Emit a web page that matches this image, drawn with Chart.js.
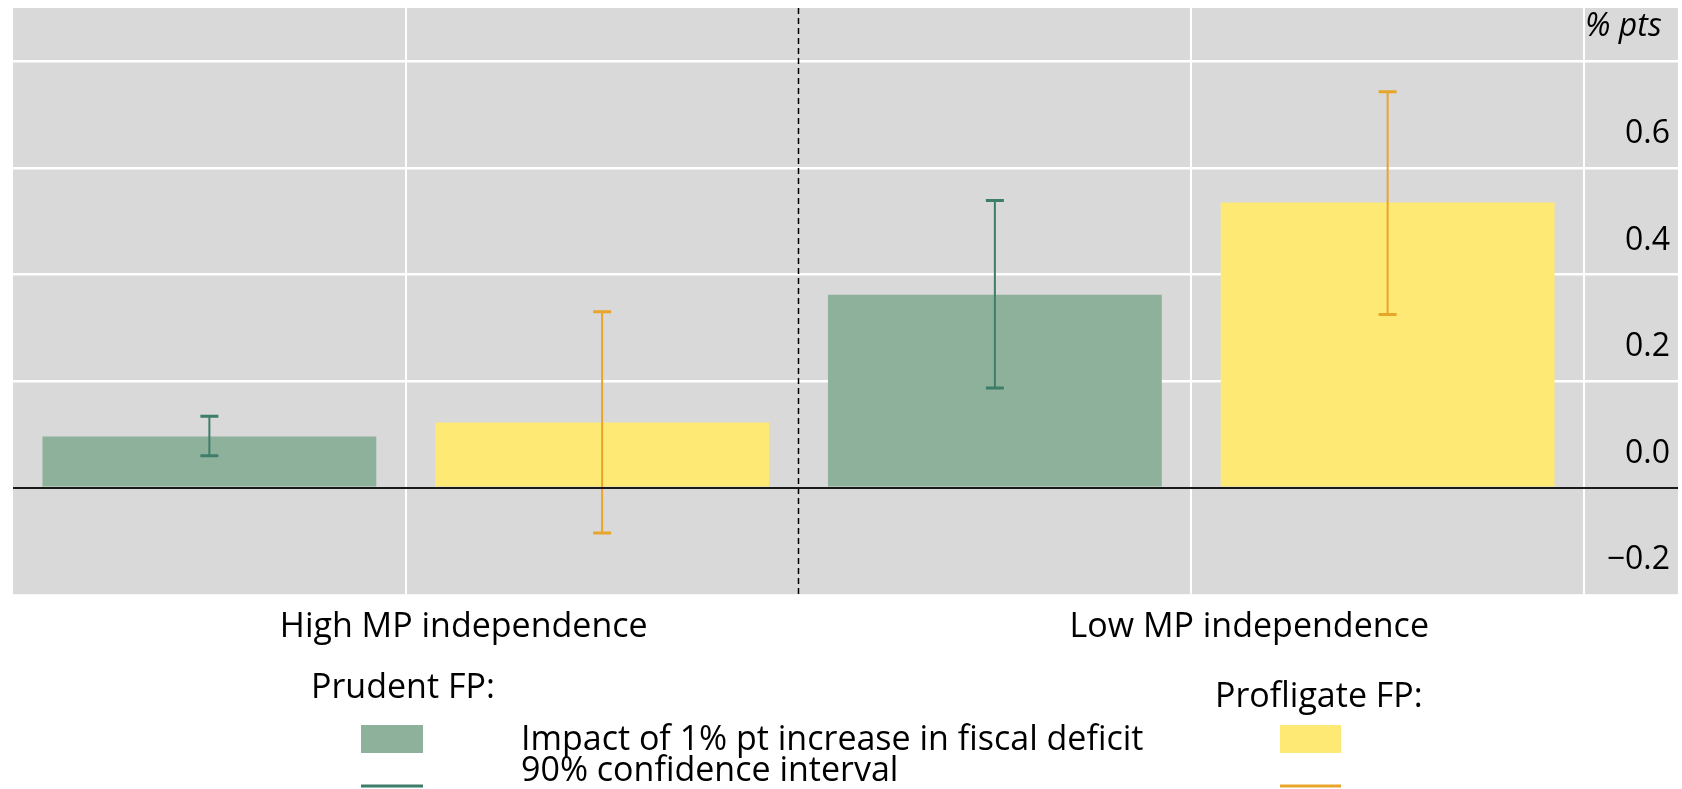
<!DOCTYPE html>
<html lang="en">
<head>
<meta charset="UTF-8">
<title>Impact of fiscal deficit by MP independence</title>
<script src="https://cdn.jsdelivr.net/npm/chart.js"></script>
<style>
  html, body { margin: 0; padding: 0; background: #fff; }
  #wrap { width: 1682px; height: 789px; }
</style>
</head>
<body>
<div id="wrap"><canvas id="chart"></canvas></div>
<script>
// values
const groups = ["High MP independence", "Low MP independence"];
const prudent = [0.096, 0.362];
const prudentLow = [0.060, 0.187];
const prudentHigh = [0.134, 0.539];
const profligate = [0.122, 0.535];
const profligateLow = [-0.085, 0.325];
const profligateHigh = [0.330, 0.743];
const yTicks = [-0.2, 0, 0.2, 0.4, 0.6, 0.8];
const unitLabel = "% pts";
const seriesNames = ["Prudent FP:", "Profligate FP:"];
const legendTexts = ["Impact of 1% pt increase in fiscal deficit", "90% confidence interval"];

const GREEN = "#8db19b", GREEN_DARK = "#3e7d6a";
const YELLOW = "#fee975", ORANGE = "#e9a42a";
const FONT = '"Open Sans", sans-serif';

Chart.defaults.font.family = FONT;
Chart.defaults.color = "#000";

// grey panel behind plot and the right-hand axis
const panel = {
    id: "panel",
    beforeDraw(chart) {
        const { ctx, chartArea, scales } = chart;
        ctx.save();
        ctx.fillStyle = "#d9d9d9";
        ctx.fillRect(chartArea.left, chartArea.top, scales.y.right - chartArea.left, chartArea.bottom - chartArea.top);
        ctx.restore();
    },
    beforeDatasetsDraw(chart) {
        // dashed divider between the two groups
        const { ctx, chartArea, scales } = chart;
        const x = (scales.x.getPixelForValue(0) + scales.x.getPixelForValue(1)) / 2;
        ctx.save();
        ctx.strokeStyle = "#000";
        ctx.lineWidth = 1.5;
        ctx.setLineDash([6, 4]);
        ctx.beginPath();
        ctx.moveTo(x, chartArea.top);
        ctx.lineTo(x, chartArea.bottom);
        ctx.stroke();
        ctx.restore();
    },
    afterDraw(chart) {
        // zero line runs on across the axis strip
        const { ctx, chartArea, scales } = chart;
        const y0 = Math.round(scales.y.getPixelForValue(0));
        ctx.save();
        ctx.strokeStyle = "#1a1a1a";
        ctx.lineWidth = 2;
        ctx.beginPath();
        ctx.moveTo(chartArea.left, y0);
        ctx.lineTo(chart.width - 4, y0);
        ctx.stroke();
        ctx.restore();
    }
};

const errorBars = {
    id: "errorBars",
    afterDatasetsDraw(chart) {
        const { ctx, scales: { y } } = chart;
        const sets = [[prudentLow, prudentHigh, GREEN_DARK], [profligateLow, profligateHigh, ORANGE]];
        sets.forEach(([lo, hi, color], di) => {
            chart.getDatasetMeta(di).data.forEach((bar, i) => {
                const yLo = y.getPixelForValue(lo[i]);
                const yHi = y.getPixelForValue(hi[i]);
                ctx.save();
                ctx.strokeStyle = color;
                ctx.lineWidth = 2;
                ctx.beginPath();
                ctx.moveTo(bar.x, yLo);
                ctx.lineTo(bar.x, yHi);
                ctx.stroke();
                ctx.lineWidth = 3;
                ctx.beginPath();
                ctx.moveTo(bar.x - 9, yLo); ctx.lineTo(bar.x + 9, yLo);
                ctx.moveTo(bar.x - 9, yHi); ctx.lineTo(bar.x + 9, yHi);
                ctx.stroke();
                ctx.restore();
            });
        });
    }
};

// legend below the chart
const legendBox = {
    id: "legendBox",
    afterDraw(chart) {
        const ctx = chart.ctx;
        ctx.save();
        ctx.font = "34px " + FONT;
        ctx.fillStyle = "#000";
        ctx.textBaseline = "alphabetic";
        ctx.fillText(seriesNames[0], 311, 698);
        ctx.fillText(seriesNames[1], 1215, 707);
        ctx.fillText(legendTexts[0], 521, 750);
        ctx.fillText(legendTexts[1], 521, 781);

        ctx.fillStyle = GREEN;
        ctx.fillRect(361, 725, 62, 28);
        ctx.fillStyle = YELLOW;
        ctx.fillRect(1280, 725, 61, 28);

        ctx.lineWidth = 3;
        ctx.strokeStyle = GREEN_DARK;
        ctx.beginPath(); ctx.moveTo(361, 786); ctx.lineTo(423, 786); ctx.stroke();
        ctx.strokeStyle = ORANGE;
        ctx.beginPath(); ctx.moveTo(1280, 786); ctx.lineTo(1341, 786); ctx.stroke();
        ctx.restore();
    }
};

const yGridColor = c => c.tick && c.tick.value === 0 ? "#1a1a1a" : (c.tick && c.tick.value === -0.2 ? "rgba(0,0,0,0)" : "#fff");
const yGridWidth = c => c.tick && c.tick.value === 0 ? 2 : 2.5;

new Chart(document.getElementById("chart"), {
    type: "bar",
    data: {
        labels: groups,
        datasets: [
            { label: seriesNames[0], data: prudent, backgroundColor: GREEN },
            { label: seriesNames[1], data: profligate, backgroundColor: YELLOW }
        ]
    },
    options: {
        responsive: true,
        maintainAspectRatio: false,
        animation: false,
        categoryPercentage: 1,
        barPercentage: 0.85,
        layout: { padding: { top: 8, left: 13, right: 4, bottom: 128 } },
        plugins: {
            legend: { display: false },
            tooltip: { enabled: false }
        },
        scales: {
            x: {
                grid: { offset: false, color: "#fff", lineWidth: 2, drawTicks: false },
                border: { display: false },
                ticks: { font: { size: 34 }, padding: 13, labelOffset: 58 }
            },
            y: {
                position: "right",
                min: -0.2,
                max: 0.9,
                afterBuildTicks: axis => { axis.ticks = yTicks.map(v => ({ value: v })); },
                afterFit: axis => {
                    axis.width = 94;
                    axis.paddingTop = 0;
                    axis.paddingBottom = 0;
                },
                grid: {
                    color: yGridColor,
                    lineWidth: yGridWidth,
                    tickColor: yGridColor,
                    tickWidth: yGridWidth,
                    tickLength: 94
                },
                border: { display: true, color: "#fff", width: 2 },
                ticks: {
                    mirror: true,
                    autoSkip: false,
                    padding: 86,
                    labelOffset: -34,
                    font: c => ({ size: 32, style: c.tick && c.tick.value === 0.8 ? "italic" : "normal" }),
                    callback: v => v === 0.8 ? unitLabel + " " : v.toFixed(1).replace("-", "\u2212")
                }
            }
        }
    },
    plugins: [panel, errorBars, legendBox]
});
</script>
</body>
</html>
